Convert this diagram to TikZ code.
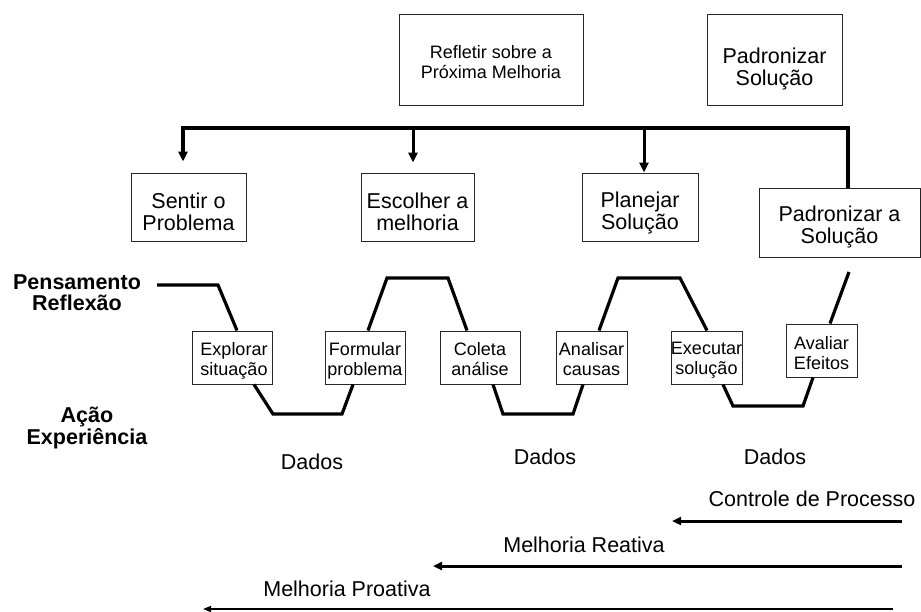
\documentclass[tikz,border=0pt]{standalone}
\usepackage{fontspec}
\setmainfont{Liberation Sans}
\usetikzlibrary{arrows.meta}

\tikzset{
  box/.style={draw=black!85, line width=1pt, inner sep=0pt, fill=white},
  boxtext/.style={inner sep=0pt, align=center},
  bigtext/.style={font=\fontsize{21.5}{22}\selectfont},
  smalltext/.style={font=\fontsize{18}{20}\selectfont},
  thick line/.style={line width=3.2pt, line join=miter},
  downarrow/.style={line width=3pt, -{Triangle[length=10pt,width=9pt]}},
  heavyarrow/.style={line width=3pt, -{Triangle[length=9pt,width=8pt]}},
  lightarrow/.style={line width=1.5pt, -{Triangle[length=8pt,width=6pt]}},
}

\begin{document}
\begin{tikzpicture}[x=1pt, y=-1pt]
\useasboundingbox (0,0) rectangle (921,611);

% upper boxes
\node[box, minimum width=184pt, minimum height=91pt] (refl) at (491,59.5) {};
\node[boxtext, smalltext] (refl-t) at ([yshift=-2.5pt]refl.center) {Refletir sobre a\\Próxima Melhoria};
\node[box, minimum width=135pt, minimum height=91pt] (padtop) at (774.5,59.5) {};
\node[boxtext, bigtext] (padtop-t) at ([yshift=-9pt]padtop.center) {Padronizar\\Solução};

% the four steps fed by the bar
\node[box, minimum width=115pt, minimum height=68pt] (sentir) at (188.5,207) {};
\node[boxtext, bigtext] (sentir-t) at ([yshift=-5pt]sentir.center) {Sentir o\\Problema};
\node[box, minimum width=113pt, minimum height=68pt] (escolher) at (417.5,207) {};
\node[boxtext, bigtext] (escolher-t) at ([yshift=-5pt]escolher.center) {Escolher a\\melhoria};
\node[box, minimum width=116pt, minimum height=68pt] (planejar) at (640,207) {};
\node[boxtext, bigtext] (planejar-t) at ([yshift=-5.5pt]planejar.center) {Planejar\\Solução};
\node[box, minimum width=161pt, minimum height=69pt] (padsol) at (839.5,222.5) {};
\node[boxtext, bigtext] (padsol-t) at ([yshift=-4.5pt]padsol.center) {Padronizar a\\Solução};

% distribution bar
\coordinate (bl) at (183,128);
\coordinate (b2) at (413,128);
\coordinate (b3) at (644,128);
\coordinate (br) at (848,128);
\draw[thick line, {Triangle[length=10pt,width=9pt]}-, shorten <=1pt]
  ([yshift=10pt]bl |- sentir.north) -- (bl) -- (br) -- (br |- padsol.north);
\draw[downarrow, shorten >=10pt] (b2) -- (b2 |- escolher.north);
\draw[downarrow] (b3) -- (b3 |- planejar.north);

% side labels
\node[font=\bfseries\fontsize{21.5}{21}\selectfont, align=center] (pens) at (77,292.5) {Pensamento\\Reflexão};
\node[font=\bfseries\fontsize{21.5}{22}\selectfont, align=center] (acao) at (87,428) {Ação\\Experiência};

% boxes on the wave
\node[box, minimum width=80pt, minimum height=53pt] (explorar) at (232,357.5) {};
\node[boxtext, smalltext] (explorar-t) at ([yshift=-3.5pt, xshift=2pt]explorar.center) {Explorar\\situação};
\node[box, minimum width=80pt, minimum height=53pt] (formular) at (365,357.5) {};
\node[boxtext, smalltext] (formular-t) at ([yshift=-3pt]formular.center) {Formular\\problema};
\node[box, minimum width=80pt, minimum height=53pt] (coleta) at (480,357.5) {};
\node[boxtext, smalltext] (coleta-t) at ([yshift=-2pt]coleta.center) {Coleta\\análise};
\node[box, minimum width=71pt, minimum height=53pt] (analisar) at (591.5,357.5) {};
\node[boxtext, smalltext] (analisar-t) at ([yshift=-2pt]analisar.center) {Analisar\\causas};
\node[box, minimum width=71pt, minimum height=53pt] (executar) at (706.5,357.5) {};
\node[boxtext, smalltext] (executar-t) at ([yshift=-3pt]executar.center) {Executar\\solução};
\node[box, minimum width=71pt, minimum height=53pt] (avaliar) at (821.5,350.5) {};
\node[boxtext, smalltext] (avaliar-t) at ([yshift=-3pt]avaliar.center) {Avaliar\\Efeitos};

% bend points of the wave
\coordinate (w0) at (157,285);
\coordinate (w1) at (218,285);
\coordinate (d1) at (273,414);
\coordinate (d2) at (342,414);
\coordinate (u1) at (387,278);
\coordinate (u2) at (448,278);
\coordinate (d3) at (503,414);
\coordinate (d4) at (573,414);
\coordinate (u3) at (618,278);
\coordinate (u4) at (680,278);
\coordinate (d5) at (733,406);
\coordinate (d6) at (803,406);
\coordinate (w9) at (849,272);

\draw[thick line] (w0) -- (w1) -- ([xshift=5pt]explorar.north);
\draw[thick line] ([xshift=22pt]explorar.south) -- (d1) -- (d2) -- ([xshift=-12pt]formular.south);
\draw[thick line] ([xshift=3pt]formular.north) -- (u1) -- (u2) -- ([xshift=-13pt]coleta.north);
\draw[thick line] ([xshift=13pt]coleta.south) -- (d3) -- (d4) -- ([xshift=-8.5pt]analisar.south);
\draw[thick line] ([xshift=7.5pt]analisar.north) -- (u3) -- (u4) -- ([xshift=0.5pt]executar.north);
\draw[thick line] ([xshift=16.5pt]executar.south) -- (d5) -- (d6) -- ([xshift=-8.5pt]avaliar.south);
\draw[thick line] ([xshift=8.5pt]avaliar.north) -- (w9);

% data labels
\node[bigtext] (dados1) at (312,462) {Dados};
\node[bigtext] (dados2) at (545,457) {Dados};
\node[bigtext] (dados3) at (775,457) {Dados};

% improvement scopes
\node[bigtext] (controle) at (812,499) {Controle de Processo};
\coordinate (c1s) at (902,521);
\coordinate (c1e) at (672,521);
\draw[heavyarrow] (c1s) -- (c1e);

\node[bigtext] (reativa) at (584,545) {Melhoria Reativa};
\coordinate (c2s) at (902,566);
\coordinate (c2e) at (433,566);
\draw[heavyarrow] (c2s) -- (c2e);

\node[bigtext] (proativa) at (347,589) {Melhoria Proativa};
\coordinate (c3s) at (893,609);
\coordinate (c3e) at (203,609);
\draw[lightarrow] (c3s) -- (c3e);
\end{tikzpicture}
\end{document}
